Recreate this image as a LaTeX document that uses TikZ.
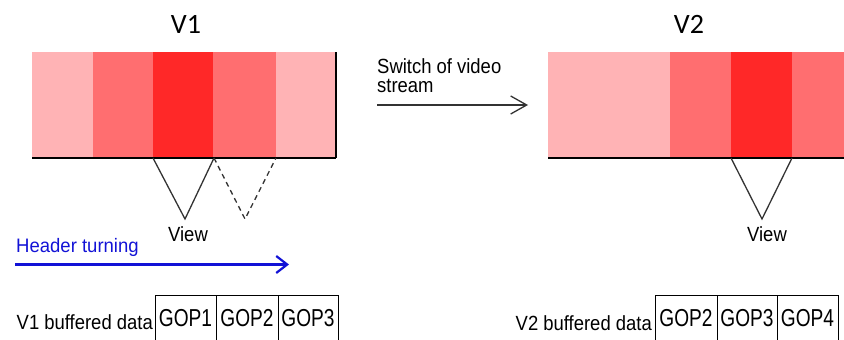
\documentclass[tikz,border=0pt]{standalone}
\usepackage{fontspec}
\usepackage{graphicx}
\setmainfont{Liberation Sans}
\newfontfamily\titlefont{Carlito}
\usetikzlibrary{arrows.meta}
\definecolor{lightr}{HTML}{FFB3B5}
\definecolor{midr}{HTML}{FF6E70}
\definecolor{darkr}{HTML}{FF2828}
\definecolor{bluec}{HTML}{1212D6}
\definecolor{grayline}{HTML}{333333}
\newcommand{\narw}[1]{\scalebox{0.9}[1]{#1}}
\newcommand{\narg}[1]{\scalebox{0.78}[1]{#1}}
\begin{document}
\begin{tikzpicture}[x=1pt,y=-1pt,
  lbl/.style={inner sep=0pt,font=\fontsize{20.5}{21}\selectfont},
  titl/.style={inner sep=0pt,font=\titlefont\fontsize{28}{30}\selectfont},
  gop/.style={inner sep=0pt,font=\fontsize{24.5}{26}\selectfont},
  viewline/.style={draw=grayline,line width=1.3pt},
  baseline/.style={draw=black,line width=1.3pt},
  cellbox/.style={draw=black,line width=1pt}]
\useasboundingbox (0,0) rectangle (844,340);
\clip (0,0) rectangle (844,340);
% V1 strip
\fill[lightr] (32,52) rectangle (93,158);
\fill[midr] (93,52) rectangle (153,158);
\fill[darkr] (153,52) rectangle (213,158);
\fill[midr] (213,52) rectangle (276,158);
\fill[lightr] (276,52) rectangle (336,158);
\draw[baseline] (32,158) -- (336,158);
\draw[baseline] (336,52) -- (336,158);
% V2 strip
\fill[lightr] (548,52) rectangle (670,158);
\fill[midr] (670,52) rectangle (731,158);
\fill[darkr] (731,52) rectangle (792,158);
\fill[midr] (792,52) rectangle (846,158);
\draw[baseline] (548,158) -- (846,158);
% titles
\node[titl] (t1) at (186,24) {V1};
\node[titl] (t2) at (689,24) {V2};
% view triangles
\draw[viewline] (153,158) -- (185,219) -- (214,158);
\draw[viewline,dash pattern=on 5pt off 4pt] (214,158) -- (245,219) -- (276,158);
\draw[viewline] (731,158) -- (762,219) -- (792,158);
\node[lbl,anchor=base] (view1) at (188,241) {\narw{View}};
\node[lbl,anchor=base] (view2) at (767,241) {\narw{View}};
% switch arrow
\node[lbl,anchor=base west] (sw1) at (377,73) {\narw{Switch of video}};
\node[lbl,anchor=base west] (sw2) at (377,92) {\narw{stream}};
\coordinate (swa) at (377,105);
\coordinate (swb) at (528,105);
\draw[draw=grayline,line width=1.3pt,-{Straight Barb[length=16pt,width=18pt,line width=1.3pt]}] (swa) -- (swb);
% header turning
\node[lbl,anchor=base west,text=bluec,font=\fontsize{19.5}{20}\selectfont] (ht) at (16,252) {\scalebox{0.95}[1]{Header turning}};
\coordinate (hta) at (15,264.5);
\coordinate (htb) at (289,264.5);
\draw[draw=bluec,line width=2.6pt,-{Straight Barb[length=11pt,width=17pt,line width=2.2pt]}] (hta) -- (htb);
% V1 buffered
\node[lbl,anchor=base east] (b1) at (153,329) {\narw{V1 buffered data}};
\draw[cellbox] (155,345) -- (155,295) -- (338,295) -- (338,345);
\draw[cellbox] (216,295) -- (216,345);
\draw[cellbox] (278,295) -- (278,345);
\node[gop,anchor=base] (g11) at (185.5,326) {\narg{GOP1}};
\node[gop,anchor=base] (g12) at (247,326) {\narg{GOP2}};
\node[gop,anchor=base] (g13) at (308,326) {\narg{GOP3}};
% V2 buffered
\node[lbl,anchor=base east] (b2) at (652,330) {\narw{V2 buffered data}};
\draw[cellbox] (655,345) -- (655,295) -- (838,295) -- (838,345);
\draw[cellbox] (717,295) -- (717,345);
\draw[cellbox] (777,295) -- (777,345);
\node[gop,anchor=base] (g21) at (686,326) {\narg{GOP2}};
\node[gop,anchor=base] (g22) at (747,326) {\narg{GOP3}};
\node[gop,anchor=base] (g23) at (807.5,326) {\narg{GOP4}};
\end{tikzpicture}
\end{document}
